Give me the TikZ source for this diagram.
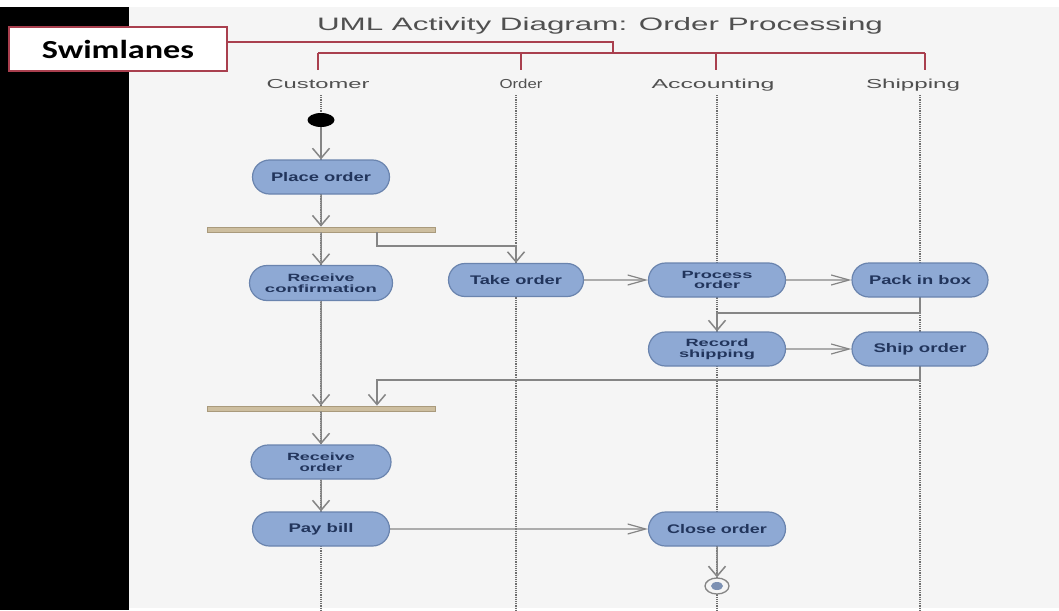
\documentclass[tikz,border=0pt]{standalone}
\usepackage{fontspec}
\usepackage{graphicx}
\setmainfont{Liberation Sans}
\newfontfamily\swfont{Carlito}
\usetikzlibrary{arrows.meta,shapes.misc,shapes.geometric}

% stretch a piece of text to a given width, keeping its height
\newcommand\fitw[2]{\resizebox{#1}{\height}{#2}}

\definecolor{bg}{HTML}{F5F5F5}
\definecolor{actfill}{HTML}{8EA9D4}
\definecolor{actline}{HTML}{6A84AE}
\definecolor{acttext}{HTML}{22355C}
\definecolor{barfill}{HTML}{CDBE9F}
\definecolor{barline}{HTML}{A99A7C}
\definecolor{flowc}{HTML}{858585}
\definecolor{lanec}{HTML}{6E6E6E}
\definecolor{swred}{HTML}{A93F4E}
\definecolor{labgray}{HTML}{505050}
\definecolor{finalfill}{HTML}{7D91B3}

\begin{document}
\begin{tikzpicture}[x=1pt,y=-1pt,
  act/.style={rounded rectangle, draw=actline, line width=1.2pt, fill=actfill,
    minimum width=137pt, minimum height=34pt, inner sep=0pt, text=acttext,
    font=\fontsize{12.5}{14}\selectfont\bfseries, align=center},
  act2/.style={act, font=\fontsize{10.5}{10.7}\selectfont\bfseries},
  bar/.style={rectangle, draw=barline, line width=0.8pt, fill=barfill,
    minimum width=228pt, minimum height=5pt, inner sep=0pt},
  flowline/.style={draw=flowc, line width=1.5pt},
  vflow/.style={flowline, -{Straight Barb[length=10pt,width=17pt]}},
  hflow/.style={flowline, line width=1.2pt, -{Straight Barb[length=18pt,width=10pt]}},
  laneline/.style={draw=lanec, line width=1.4pt, dash pattern=on 1.2pt off 1pt},
  lanelabel/.style={anchor=base, text=labgray, font=\fontsize{13}{15}\selectfont, inner sep=0pt},
  redline/.style={draw=swred, line width=1.4pt},
]
\useasboundingbox (0,0) rectangle (1059,610);

% page background
\fill[white] (0,0) rectangle (1059,610);
\fill[black] (0,7) rectangle (129,610);
\fill[bg] (129,7) rectangle (1059,608);

% title
\node[anchor=base, text=labgray, font=\fontsize{18}{20}\selectfont, inner sep=0pt]
  (title) at (600,31) {\fitw{566pt}{UML Activity Diagram: Order Processing}};

% swimlane callout
\node[rectangle, draw=swred, line width=2pt, fill=white, minimum width=218pt,
  minimum height=44pt, inner sep=0pt, font=\swfont\fontsize{26}{28}\selectfont\bfseries]
  (sw) at (118,49) {\fitw{152pt}{Swimlanes}};
\coordinate (hub) at (613,53);
\draw[redline] (sw.east |- 0,42) -| (hub);
\draw[redline] (318,53) -- (925,53);
\foreach \x in {318,521,716,925}
  \draw[redline] (\x,53) -- (\x,70);

% lane headings
\node[lanelabel] (lcust) at (318,88) {\fitw{103pt}{Customer}};
\node[lanelabel] (lord)  at (521,88) {\fitw{43pt}{Order}};
\node[lanelabel] (lacc)  at (713,88) {\fitw{123pt}{Accounting}};
\node[lanelabel] (lship) at (913,88) {\fitw{94pt}{Shipping}};

% lane lines
\foreach \x in {321,516,717,920}
  \draw[laneline] (\x,95) -- (\x,610);

% activities
\node[ellipse, fill=black, minimum width=27pt, minimum height=14pt, inner sep=0pt] (start) at (321,120) {};
\node[act] (place) at (321,177) {\fitw{100pt}{Place order}};
\node[bar] (fork1) at (321,229.5) {};
\node[act2, minimum width=143pt, minimum height=35pt] (recv) at (321,283)
  {\fitw{67pt}{Receive}\\\fitw{112pt}{confirmation}};
\node[act, minimum width=135pt, minimum height=33pt] (take) at (516,280) {\fitw{92pt}{Take order}};
\node[act2] (proc) at (717,280) {\fitw{71pt}{Process}\\\fitw{46pt}{order}};
\node[act, minimum width=136pt] (pack) at (920,280) {\fitw{102pt}{Pack in box}};
\node[act2] (rec) at (717,349) {\fitw{63pt}{Record}\\\fitw{76pt}{shipping}};
\node[act, minimum width=136pt] (ship) at (920,349) {\fitw{93pt}{Ship order}};
\node[bar] (join1) at (321,408.5) {};
\node[act2, minimum width=140pt] (rcvo) at (321,462) {\fitw{68pt}{Receive}\\\fitw{43pt}{order}};
\node[act] (pay) at (321,529) {\fitw{65pt}{Pay bill}};
\node[act] (close) at (717,529) {\fitw{100pt}{Close order}};
\node[ellipse, draw=flowc, line width=1.3pt, fill=bg, minimum width=24pt,
  minimum height=16pt, inner sep=0pt] (final) at (717,586) {};
\fill[finalfill] (final.center) ellipse [x radius=6, y radius=4];

% control flow
\coordinate (fb) at (377,232);
\coordinate (fbk) at (377,246);
\coordinate (e1) at (717,313);
\coordinate (e2) at (377,380);

\draw[vflow] (start) -- (place);
\draw[vflow] (place) -- (fork1);
\draw[vflow] (fork1) -- (recv);
\draw[vflow] (fb) -- (fbk) -| (take);
\draw[hflow] (take) -- (proc);
\draw[hflow] (proc) -- (pack);
\draw[vflow] (pack) |- (e1) -- (rec);
\draw[hflow] (rec) -- (ship);
\draw[vflow] (ship) |- (e2) -- (e2 |- join1.north);
\draw[vflow] (recv) -- (join1);
\draw[vflow] (join1) -- (rcvo);
\draw[vflow] (rcvo) -- (pay);
\draw[hflow] (pay) -- (close);
\draw[vflow] (close) -- (final);
\end{tikzpicture}
\end{document}
